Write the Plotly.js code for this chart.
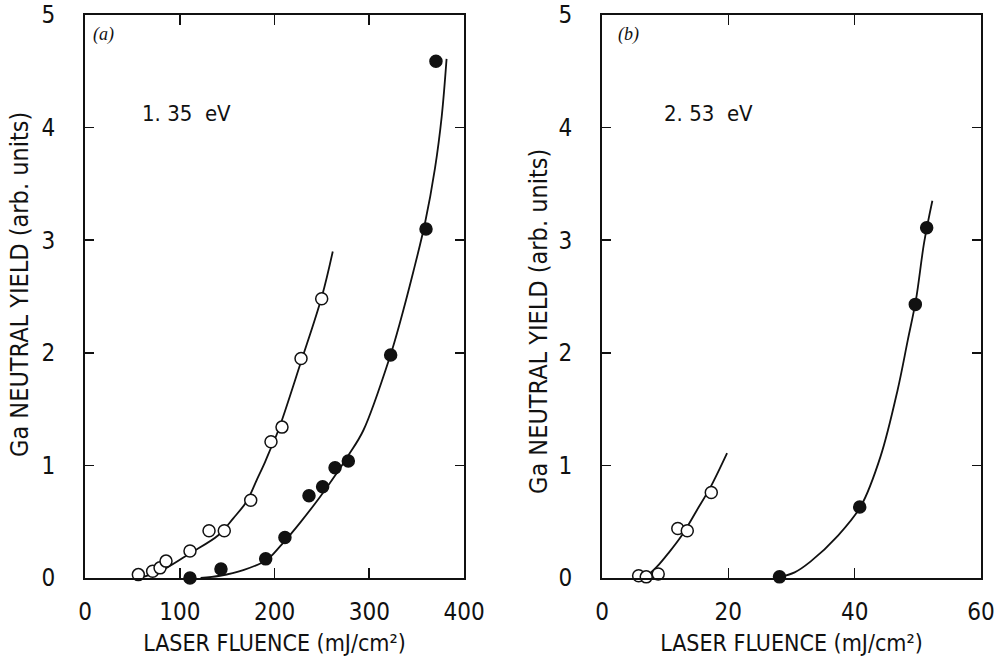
<!DOCTYPE html>
<html>
<head>
<meta charset="utf-8">
<script src="https://cdn.plot.ly/plotly-3.0.1.min.js"></script>
<style>html,body{margin:0;padding:0;background:#fff;}#chart{width:998px;height:661px;}</style>
</head>
<body>
<div id="chart"></div>
<script>
// ---- Panel (a): 1.35 eV ----
const openA_x   = [56.3, 58.8, 71.4, 79.2, 85.5, 110.8, 130.9, 147.0, 174.9, 196.3, 207.9, 228.0, 249.8];
const openA_y   = [0.03, -0.01, 0.06, 0.09, 0.15, 0.24, 0.42, 0.42, 0.69, 1.21, 1.34, 1.95, 2.48];
const filledA_x = [110.8, 143.5, 190.7, 211.0, 236.4, 250.8, 263.9, 277.9, 322.6, 359.9, 370.4];
const filledA_y = [0.00, 0.08, 0.17, 0.36, 0.73, 0.81, 0.98, 1.04, 1.98, 3.10, 4.59];
// fitted curves
const fitOpenA_x   = [58, 70, 86, 111, 140.7, 156.5, 170.6, 181.2, 190, 196, 204, 228, 250, 261.5];
const fitOpenA_y   = [0.00, 0.035, 0.09, 0.22, 0.38, 0.53, 0.68, 0.87, 1.03, 1.15, 1.31, 1.92, 2.50, 2.90];
const fitFilledA_x = [122, 142.5, 167, 191.7, 205.8, 226.9, 248, 265.6, 278, 293.7, 322, 331.8, 346.5, 358.8, 369.4, 376.5, 381.6];
const fitFilledA_y = [0.00, 0.02, 0.07, 0.16, 0.28, 0.49, 0.72, 0.93, 1.09, 1.31, 1.97, 2.25, 2.72, 3.15, 3.64, 4.10, 4.61];

// ---- Panel (b): 2.53 eV ----
const openB_x   = [4.2, 5.8, 7.0, 8.9, 12.0, 13.5, 17.3];
const openB_y   = [-0.01, 0.02, 0.01, 0.035, 0.44, 0.42, 0.76];
const filledB_x = [28.1, 40.8, 49.6, 51.4];
const filledB_y = [0.01, 0.63, 2.43, 3.11];
const fitOpenB_x   = [6.8, 8.7, 10.5, 12.65, 15.0, 17.1, 19.8];
const fitOpenB_y   = [0.00, 0.10, 0.22, 0.38, 0.60, 0.80, 1.11];
const fitFilledB_x = [27.5, 30.5, 33.0, 37.25, 41.0, 44.1, 46.8, 48.4, 49.7, 51.0, 52.3];
const fitFilledB_y = [0.00, 0.05, 0.145, 0.37, 0.64, 1.08, 1.67, 2.11, 2.47, 2.98, 3.35];

const yTicks = [0, 1, 2, 3, 4, 5];
const xTicksA = [0, 100, 200, 300, 400];
const xTicksB = [0, 20, 40, 60];

const FONT = "'Liberation Sans Narrow', 'DejaVu Sans Condensed', 'Roboto Condensed', 'Liberation Sans', sans-serif";
const SERIF = "'Liberation Serif', 'DejaVu Serif', serif";

function fit(x, y, xa, ya) {
  return {x: x, y: y, xaxis: xa, yaxis: ya, type: 'scatter', mode: 'lines',
          line: {color: '#111', width: 1.8, shape: 'spline', smoothing: 1}, hoverinfo: 'skip', showlegend: false};
}
function pts(x, y, xa, ya, filled) {
  return {x: x, y: y, xaxis: xa, yaxis: ya, type: 'scatter', mode: 'markers', cliponaxis: false, showlegend: false,
          marker: {symbol: 'circle', size: 12, color: filled ? '#111' : '#fff', line: {color: '#111', width: 1.5}}};
}

const data = [
  fit(fitOpenA_x, fitOpenA_y, 'x', 'y'),
  fit(fitFilledA_x, fitFilledA_y, 'x', 'y'),
  pts(openA_x, openA_y, 'x', 'y', false),
  pts(filledA_x, filledA_y, 'x', 'y', true),
  fit(fitOpenB_x, fitOpenB_y, 'x2', 'y2'),
  fit(fitFilledB_x, fitFilledB_y, 'x2', 'y2'),
  pts(openB_x, openB_y, 'x2', 'y2', false),
  pts(filledB_x, filledB_y, 'x2', 'y2', true)
];

const W = 998, H = 661;
const yDom = [1 - 578 / H, 1 - 15 / H];

function xax(dom, range, ticks, anchor) {
  return {domain: dom, range: range, anchor: anchor, tickvals: ticks, ticktext: ticks.map(String),
          showline: true, linecolor: '#111', linewidth: 2, mirror: 'ticks', ticks: 'inside', ticklen: 10, tickwidth: 1.6,
          tickcolor: '#111', showgrid: false, zeroline: false, ticklabelstandoff: 11,
          tickfont: {family: FONT, size: 24, color: '#111'},
          title: {text: 'LASER FLUENCE (mJ/cm\u00B2)', font: {family: FONT, size: 23, color: '#111'}, standoff: 10}};
}
function yax(dom, anchor) {
  return {domain: dom, range: [0, 5], anchor: anchor, tickvals: yTicks, ticktext: yTicks.map(String),
          showline: true, linecolor: '#111', linewidth: 2, mirror: 'ticks', ticks: 'inside', ticklen: 9, tickwidth: 1.6,
          tickcolor: '#111', showgrid: false, zeroline: false, ticklabelstandoff: 23,
          tickfont: {family: FONT, size: 24, color: '#111'}};
}

const layout = {
  width: W, height: H,
  margin: {l: 0, r: 0, t: 0, b: 0},
  paper_bgcolor: '#fff', plot_bgcolor: '#fff',
  showlegend: false,
  xaxis: xax([85 / W, 464 / W], [0, 400], xTicksA, 'y'),
  yaxis: yax(yDom, 'x'),
  xaxis2: xax([602 / W, 981 / W], [0, 60], xTicksB, 'y2'),
  yaxis2: yax(yDom, 'x2'),
  annotations: [
    {xref: 'paper', yref: 'paper', x: 19 / W, y: 1 - 285 / H, text: 'Ga NEUTRAL YIELD (arb. units)', textangle: -90,
     showarrow: false, font: {family: FONT, size: 25, color: '#111'}, xanchor: 'center', yanchor: 'middle'},
    {xref: 'paper', yref: 'paper', x: 538 / W, y: 1 - 322 / H, text: 'Ga NEUTRAL YIELD (arb. units)', textangle: -90,
     showarrow: false, font: {family: FONT, size: 25, color: '#111'}, xanchor: 'center', yanchor: 'middle'},
    {xref: 'paper', yref: 'paper', x: 140 / W, y: 1 - 113 / H, text: '1. 35  eV', showarrow: false,
     font: {family: FONT, size: 22, color: '#111'}, xanchor: 'left', yanchor: 'middle'},
    {xref: 'paper', yref: 'paper', x: 662 / W, y: 1 - 113 / H, text: '2. 53  eV', showarrow: false,
     font: {family: FONT, size: 22, color: '#111'}, xanchor: 'left', yanchor: 'middle'},
    {xref: 'paper', yref: 'paper', x: 91 / W, y: 1 - 35 / H, text: '(a)', showarrow: false,
     font: {family: SERIF, size: 18, color: '#111', style: 'italic'}, xanchor: 'left', yanchor: 'middle'},
    {xref: 'paper', yref: 'paper', x: 616 / W, y: 1 - 35 / H, text: '(b)', showarrow: false,
     font: {family: SERIF, size: 18, color: '#111', style: 'italic'}, xanchor: 'left', yanchor: 'middle'}
  ]
};

Plotly.newPlot('chart', data, layout, {staticPlot: true, displayModeBar: false});
</script>
</body>
</html>
